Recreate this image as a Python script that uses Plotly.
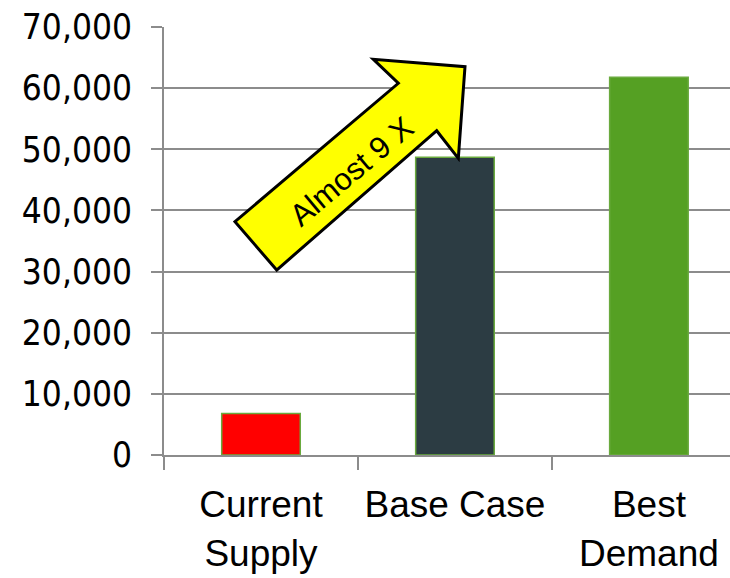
import plotly.graph_objects as go

categories = ["Current<br>Supply", "Base Case", "Best<br>Demand"]
values = [6800, 48700, 61800]
bar_colors = ["#ff0000", "#2c3c43", "#55a023"]
y_ticks = [0, 10000, 20000, 30000, 40000, 50000, 60000, 70000]
arrow_label = "Almost 9 X"

W, H = 730, 578
L, R, T, B = 164, 0, 27, 123
pw, ph = W - L - R, H - T - B

def px(x):
    return (x - L) / pw

def py(y):
    return (H - B - y) / ph

fig = go.Figure()
fig.add_trace(go.Bar(
    x=categories, y=values,
    marker=dict(color=bar_colors, line=dict(color="#6aaa3e", width=1.5)),
    width=0.405,
))

grid = "#8c8c8c"
fig.update_layout(
    width=W, height=H,
    margin=dict(l=L, r=R, t=T, b=B, pad=0),
    plot_bgcolor="white", paper_bgcolor="white",
    showlegend=False,
    xaxis=dict(
        range=[-0.5, 2.418], showgrid=False, showline=True, linecolor=grid, linewidth=2,
        ticks="outside", tickson="boundaries", ticklen=13, tickwidth=2, tickcolor=grid,
        tickfont=dict(family="Liberation Sans, Arial", size=37, color="black"),
        tickangle=0, automargin=False,
        ticklabelstandoff=16,
    ),
    yaxis=dict(
        range=[0, 70000], tickvals=y_ticks, tickformat=",d",
        showgrid=True, gridcolor=grid, gridwidth=2,
        showline=True, linecolor=grid, linewidth=2,
        ticks="outside", ticklen=11, tickwidth=2, tickcolor=grid,
        tickfont=dict(family="DejaVu Sans Condensed, DejaVu Sans", size=35, color="black"),
        ticklabelstandoff=12, zeroline=False, automargin=False,
    ),
)

pts = [(276.7, 270), (235, 221.7), (398.3, 83.3), (373.3, 59.3), (465, 66.7),
       (458.3, 158.3), (436.7, 130.7)]
path = "M " + " L ".join(f"{px(x):.4f},{py(y):.4f}" for x, y in pts) + " Z"
fig.add_shape(type="path", path=path, xref="paper", yref="paper",
              fillcolor="#ffff00", line=dict(color="black", width=3), layer="above")

fig.add_annotation(x=px(351.7), y=py(172), xref="paper", yref="paper",
                   text=arrow_label, showarrow=False, textangle=-40,
                   xanchor="center", yanchor="middle",
                   font=dict(family="Liberation Sans, Arial", size=31, color="black"))

fig.write_html("out.html")
